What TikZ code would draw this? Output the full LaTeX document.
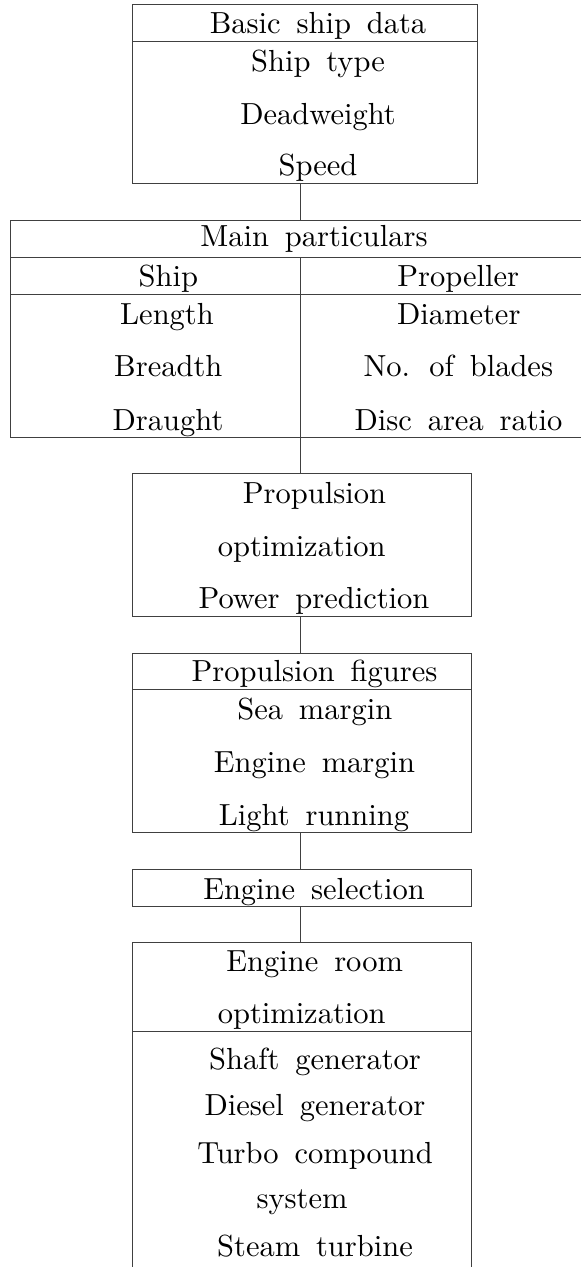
\documentclass[tikz,border=0pt]{standalone}
\usepackage{fontspec}
\setmainfont{lmroman10-regular}[Extension=.otf]
\newcommand\lblfont{\fontsize{30.5}{36}\selectfont\spaceskip=0.52em plus 0.1em\relax}
\definecolor{linec}{gray}{0.25}
\begin{document}
\begin{tikzpicture}[x=1pt,y=-1pt,
  frame/.style={draw=linec, line width=1pt},
  blank/.style={inner sep=0pt, outer sep=0pt, anchor=north west},
  lbl/.style={anchor=base, inner sep=0pt, font=\lblfont, text=black},
  conn/.style={draw=linec, line width=1pt}]
\useasboundingbox (0,0) rectangle (581,1267);
\coordinate (cx) at (300,0);
% boxes
\node[blank, frame, minimum width=345.4pt, minimum height=179pt] (basic) at (132.3,4.3) {};
\node[blank, minimum width=580pt, minimum height=216.3pt] (main) at (10.7,220.7) {};
\node[blank, frame, minimum width=338.7pt, minimum height=142.3pt] (prop) at (132.3,473.7) {};
\node[blank, frame, minimum width=338.7pt, minimum height=179pt] (fig) at (132.3,653.3) {};
\node[blank, frame, minimum width=338.7pt, minimum height=36.7pt] (sel) at (132.3,869.3) {};
\node[blank, minimum width=338.7pt, minimum height=340pt] (room) at (132.3,942.7) {};
% open frames
\draw[frame] (main.north east) -- (main.north west) -- (main.south west) -- (main.south east);
\draw[frame] (room.south west) -- (room.north west) -- (room.north east) -- (room.south east);
% inner rules
\draw[frame] (132.3,41.3) -- (477.7,41.3);
\draw[frame] (10.7,257.7) -- (590,257.7);
\draw[frame] (10.7,294.3) -- (590,294.3);
\draw[frame] (300,257.7) -- (300,437);
\draw[frame] (132.3,689.7) -- (471,689.7);
\draw[frame] (132.3,1031.7) -- (471,1031.7);
% connectors
\draw[conn] (basic.south -| cx) -- (main.north -| cx);
\draw[conn] (main.south -| cx) -- (prop.north -| cx);
\draw[conn] (prop.south -| cx) -- (fig.north -| cx);
\draw[conn] (fig.south -| cx) -- (sel.north -| cx);
\draw[conn] (sel.south -| cx) -- (room.north -| cx);
% texts
\node[lbl] (b1) at (318,33.3) {Basic ship data};
\node[lbl] (b2) at (318,71) {Ship type};
\node[lbl] (b3) at (318,124) {Deadweight};
\node[lbl] (b4) at (318,175.7) {Speed};
\node[lbl] (m1) at (314,246.7) {Main particulars};
\node[lbl] (m2) at (168.3,286) {Ship};
\node[lbl] (m3) at (458.3,286) {Propeller};
\node[lbl] (m4) at (167,324) {Length};
\node[lbl] (m5) at (458.8,324) {Diameter};
\node[lbl] (m6) at (168.3,376.7) {Breadth};
\node[lbl] (m7) at (458.3,376.7) {No. of blades};
\node[lbl] (m8) at (168,430) {Draught};
\node[lbl] (m9) at (458.5,430) {Disc area ratio};
\node[lbl] (p1) at (314.5,503) {Propulsion};
\node[lbl] (p2) at (301.7,556) {optimization};
\node[lbl] (p3) at (314,608) {Power prediction};
\node[lbl] (f1) at (314.5,681.7) {Propulsion figures};
\node[lbl] (f2) at (314.8,719) {Sea margin};
\node[lbl] (f3) at (314.5,772) {Engine margin};
\node[lbl] (f4) at (314,825) {Light running};
\node[lbl] (s1) at (314,899) {Engine selection};
\node[lbl] (r1) at (314.7,971.7) {Engine room};
\node[lbl] (r2) at (301.7,1023) {optimization};
\node[lbl] (r3) at (315,1069) {Shaft generator};
\node[lbl] (r4) at (315,1115.7) {Diesel generator};
\node[lbl] (r5) at (315,1163) {Turbo compound};
\node[lbl] (r6) at (302,1208) {system};
\node[lbl] (r7) at (315,1256) {Steam turbine};
\end{tikzpicture}
\end{document}
